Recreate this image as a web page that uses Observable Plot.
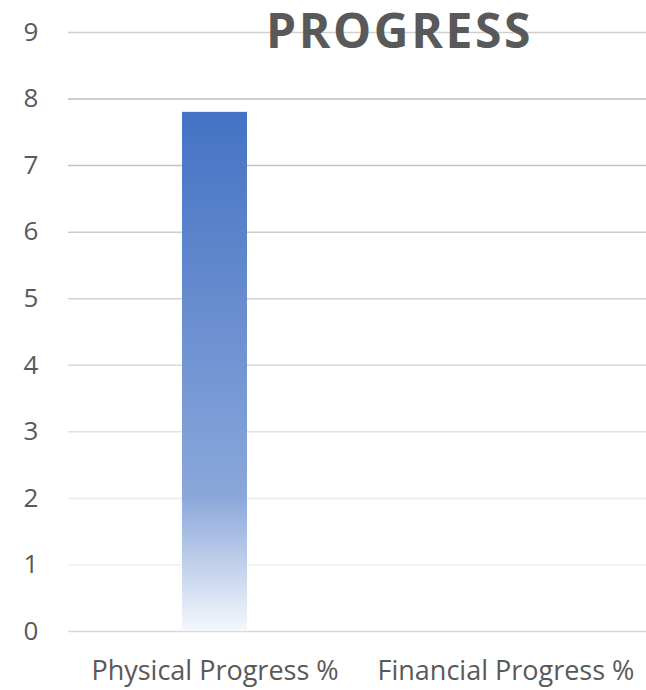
<!DOCTYPE html>
<html>
<head>
<meta charset="utf-8">
<script src="https://cdn.jsdelivr.net/npm/d3@7"></script>
<script src="https://cdn.jsdelivr.net/npm/@observablehq/plot@0.6"></script>
<style>
  html, body { margin: 0; padding: 0; background: #fff; }
  #chart { width: 646px; height: 690px; }
  .title-text text { letter-spacing: 2.6px; }
</style>
</head>
<body>
<div id="chart"></div>
<script>
const title = "PROGRESS";
const categories = ["Physical Progress %", "Financial Progress %"];
const values = [7.8, 0];
const yTicks = [0, 1, 2, 3, 4, 5, 6, 7, 8, 9];

const data = categories.map((c, i) => ({category: c, value: values[i]}));

function gridColor(v) {
  if (v === 0) return "#d9d9d9";
  if (v === 9) return "#d0d0d0";
  return d3.interpolateRgb("#f0f0f0", "#bdbdbd")((v - 1) / 7);
}

const gradientDefs = () => {
  const defs = d3.create("svg:defs");
  const g = defs.append("linearGradient")
    .attr("id", "barGrad").attr("x1", 0).attr("y1", 0).attr("x2", 0).attr("y2", 1);
  g.append("stop").attr("offset", "0%").attr("stop-color", "#4472C4");
  g.append("stop").attr("offset", "74%").attr("stop-color", "#8AA7DA");
  g.append("stop").attr("offset", "100%").attr("stop-color", "#F5F8FC");
  return defs.node();
};

const plot = Plot.plot({
  width: 646,
  height: 690,
  marginLeft: 68,
  marginRight: 0,
  marginTop: 0,
  marginBottom: 0,
  style: {fontFamily: "'Open Sans', sans-serif", background: "transparent"},
  x: {domain: categories, range: [69, 651], padding: 0, axis: null},
  y: {domain: [0, 9], range: [631, 32], axis: null},
  marks: [
    gradientDefs,
    Plot.ruleY(yTicks, {y: d => d, stroke: d => gridColor(d), strokeWidth: 1.5}),
    Plot.barY(data.filter(d => d.value > 0), {x: "category", y: "value", fill: "url(#barGrad)", insetLeft: 113, insetRight: 113}),
    Plot.text(yTicks, {y: d => d, frameAnchor: "left", dx: -37.5, text: d => String(d), fill: "#595959", fontSize: 26, textAnchor: "middle"}),
    Plot.text(categories, {x: d => d, y: 0, dy: 40, text: d => d, fill: "#595959", fontSize: 27, textAnchor: "middle"}),
    Plot.text([title], {frameAnchor: "top-left", dx: 399 - 68, dy: 47, lineAnchor: "bottom", textAnchor: "middle", text: d => d, fill: "#595959", fontSize: 48, fontWeight: 700, className: "title-text"})
  ]
});
document.getElementById("chart").append(plot);
</script>
</body>
</html>
